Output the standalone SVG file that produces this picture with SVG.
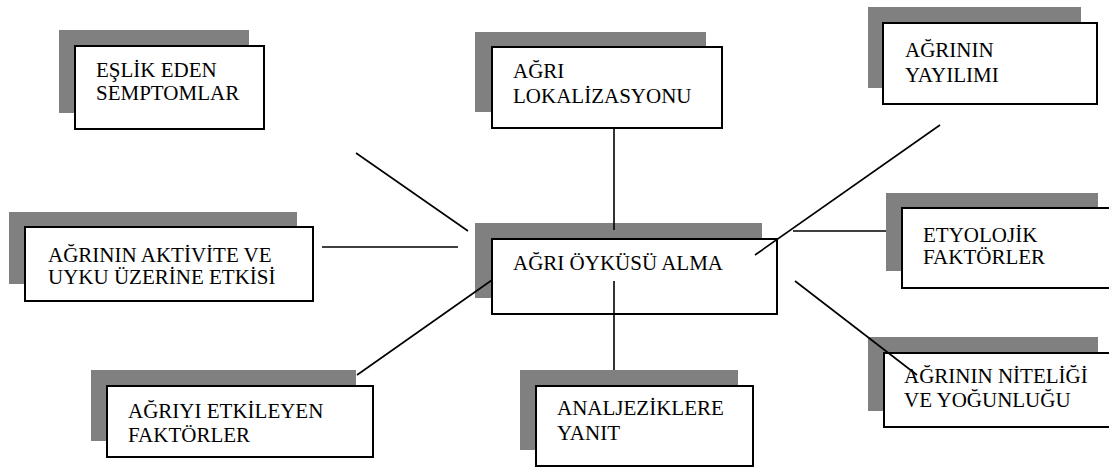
<svg xmlns="http://www.w3.org/2000/svg" width="1109" height="467" viewBox="0 0 1109 467" font-family="'Liberation Serif', 'Times New Roman', serif">
<style>
.sh{fill:#808080;stroke:none}
.bx{fill:#fff;stroke:#000;stroke-width:2}
text{font-family:'Liberation Serif','Times New Roman',serif;font-size:21px;fill:#000}
.c line{stroke:#000;stroke-width:1.6}
</style>
<rect width="1109" height="467" fill="#fff"/>
<g id="n-eslik">
<rect class="sh" x="59" y="30" width="190" height="83"/>
<rect class="bx" x="75" y="46" width="189" height="83"/>
<text x="96" y="77">EŞLİK EDEN</text>
<text x="96" y="100">SEMPTOMLAR</text>
</g>
<g id="n-lokalizasyon">
<rect class="sh" x="475" y="32" width="231" height="80"/>
<rect class="bx" x="492" y="47" width="230" height="81"/>
<text x="513" y="78">AĞRI</text>
<text x="513" y="103">LOKALİZASYONU</text>
</g>
<g id="n-yayilim">
<rect class="sh" x="868" y="7" width="213" height="81"/>
<rect class="bx" x="883" y="23" width="214" height="81"/>
<text x="905" y="57">AĞRININ</text>
<text x="905" y="82">YAYILIMI</text>
</g>
<g id="n-aktivite">
<rect class="sh" x="9" y="212" width="288" height="72"/>
<rect class="bx" x="25" y="227" width="288" height="74"/>
<text x="48" y="262">AĞRININ AKTİVİTE VE</text>
<text x="48" y="284">UYKU ÜZERİNE ETKİSİ</text>
</g>
<g id="n-merkez">
<rect class="sh" x="475" y="223" width="287" height="75"/>
<rect class="bx" x="492" y="239" width="285" height="75"/>
<text x="513" y="270">AĞRI ÖYKÜSÜ ALMA</text>
</g>
<g id="n-etyoloji">
<rect class="sh" x="886" y="193" width="212" height="78"/>
<rect class="bx" x="902" y="208" width="212" height="80"/>
<text x="923" y="242">ETYOLOJİK</text>
<text x="923" y="264">FAKTÖRLER</text>
</g>
<g id="n-etkileyen">
<rect class="sh" x="91" y="370" width="265" height="71"/>
<rect class="bx" x="107" y="386" width="266" height="71"/>
<text x="128" y="418">AĞRIYI ETKİLEYEN</text>
<text x="128" y="442">FAKTÖRLER</text>
</g>
<g id="n-analjezik">
<rect class="sh" x="520" y="370" width="218" height="80"/>
<rect class="bx" x="536" y="386" width="217" height="80"/>
<text x="557" y="415">ANALJEZİKLERE</text>
<text x="557" y="440">YANIT</text>
</g>
<g id="n-nitelik">
<rect class="sh" x="868" y="337" width="230" height="74"/>
<rect class="bx" x="884" y="353" width="230" height="74"/>
<text x="904" y="383">AĞRININ NİTELİĞİ</text>
<text x="904" y="407">VE YOĞUNLUĞU</text>
</g>
<g id="connectors" class="c">
<line x1="614" y1="128" x2="614" y2="230"/>
<line x1="614" y1="281" x2="614" y2="370"/>
<line x1="356" y1="153" x2="468" y2="231"/>
<line x1="322" y1="247" x2="458" y2="247"/>
<line x1="357" y1="375" x2="492" y2="280"/>
<line x1="755" y1="255" x2="940" y2="125"/>
<line x1="793" y1="231" x2="886" y2="231"/>
<line x1="795" y1="281" x2="917" y2="375"/>
</g>
</svg>
